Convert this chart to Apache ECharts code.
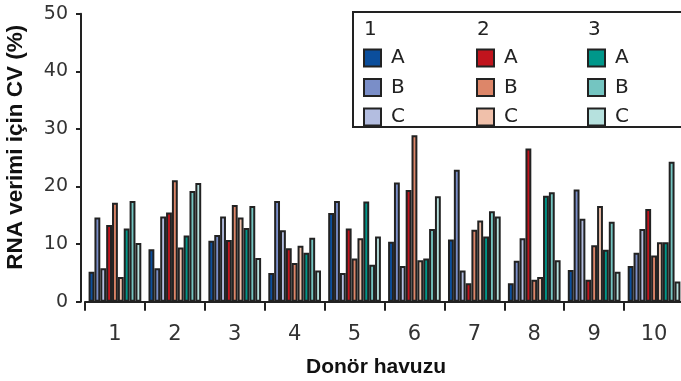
<!DOCTYPE html>
<html>
<head>
<meta charset="utf-8">
<script src="https://cdn.jsdelivr.net/npm/echarts@6/dist/echarts.min.js"></script>
<style>
  html, body { margin: 0; padding: 0; background: #fff; }
  #chart { width: 681px; height: 381px; }
</style>
</head>
<body>
<div id="chart"></div>
<script>
// Donor pools on the x axis
const categories = ['1', '2', '3', '4', '5', '6', '7', '8', '9', '10'];
const yTicks = [0, 10, 20, 30, 40, 50];

// CV of RNA yield (%) per group/replicate, one value per donor pool
const s1A = [5.2, 9.1, 10.6, 5.0, 15.4, 10.4, 10.8, 3.2, 5.5, 6.2];
const s1B = [14.6, 5.8, 11.6, 17.5, 17.5, 20.7, 22.9, 7.1, 19.5, 8.5];
const s1C = [5.8, 14.8, 14.8, 12.4, 5.0, 6.2, 5.4, 11.0, 14.4, 12.6];
const s2A = [13.3, 15.5, 10.7, 9.3, 12.7, 19.4, 3.2, 26.6, 3.8, 16.1];
const s2B = [17.2, 21.1, 16.8, 6.7, 7.5, 28.9, 12.5, 3.8, 9.8, 8.0];
const s2C = [4.3, 9.4, 14.6, 9.7, 11.0, 7.2, 14.1, 4.3, 16.6, 10.3];
const s3A = [12.7, 11.5, 12.8, 8.5, 17.4, 7.5, 11.3, 18.4, 9.0, 10.3];
const s3B = [17.5, 19.2, 16.6, 11.1, 6.4, 12.6, 15.7, 19.0, 13.9, 24.3];
const s3C = [10.2, 20.6, 7.6, 5.4, 11.3, 18.3, 14.8, 7.2, 5.2, 3.5];

const groups = [
  { head: '1', names: ['1-A', '1-B', '1-C'], data: [s1A, s1B, s1C], colors: ['#0b4e9c', '#7a8ec8', '#b3bde0'] },
  { head: '2', names: ['2-A', '2-B', '2-C'], data: [s2A, s2B, s2C], colors: ['#c1141d', '#dd8669', '#f0c0aa'] },
  { head: '3', names: ['3-A', '3-B', '3-C'], data: [s3A, s3B, s3C], colors: ['#00978a', '#74c5c1', '#b6e1de'] }
];

const series = [];
groups.forEach(g => {
  g.names.forEach((n, i) => {
    series.push({
      name: n,
      type: 'bar',
      data: g.data[i],
      barGap: '0%',
      barCategoryGap: '12%',
      itemStyle: { color: g.colors[i], borderColor: '#222', borderWidth: 2 }
    });
  });
});

const font = 'DejaVu Sans';
const legendX = [363, 476, 587];
const legends = groups.map((g, k) => ({
  data: g.names,
  orient: 'vertical',
  left: legendX[k],
  top: 48,
  padding: 0,
  itemWidth: 17,
  itemHeight: 17,
  itemGap: 9.5,
  icon: 'rect',
  selectedMode: false,
  formatter: name => name.split('-')[1],
  itemStyle: { borderColor: '#222', borderWidth: 2 },
  textStyle: { fontFamily: font, fontSize: 20, color: '#222', padding: [0, 0, 0, 5] }
}));

const chart = echarts.init(document.getElementById('chart'));
chart.setOption({
  animation: false,
  grid: { left: 85, right: -3, top: 13.7, bottom: 79.3, containLabel: false, outerBoundsMode: 'none' },
  legend: legends,
  graphic: [
    { type: 'rect', shape: { x: 353, y: 12, width: 340, height: 115 },
      style: { fill: 'none', stroke: '#222', lineWidth: 2 }, z: 10 },
    ...groups.map((g, k) => ({
      type: 'text', left: legendX[k] + 1, top: 20,
      style: { text: g.head, font: '20px "DejaVu Sans"', fill: '#222' }, z: 10
    }))
  ],
  xAxis: {
    type: 'category',
    data: categories,
    name: 'Donör havuzu',
    nameLocation: 'middle',
    nameGap: 55,
    nameTextStyle: { fontFamily: 'Liberation Sans', fontWeight: 'bold', fontSize: 21, color: '#111', padding: [0, 17, 0, 0] },
    axisLine: { lineStyle: { color: '#222', width: 2 } },
    axisTick: { show: true, length: 9, lineStyle: { color: '#222', width: 2 } },
    axisLabel: { fontFamily: font, fontSize: 21, color: '#333', margin: 22 }
  },
  yAxis: {
    type: 'value',
    min: 0, max: 50, interval: 10,
    offset: 4,
    name: 'RNA verimi için CV (%)',
    nameLocation: 'middle',
    nameGap: 54,
    nameTextStyle: { fontFamily: 'Liberation Sans', fontWeight: 'bold', fontSize: 22.5, color: '#111', padding: [0, 0, 0, 21] },
    axisLine: { show: true, lineStyle: { color: '#222', width: 2 } },
    axisTick: { show: true, length: 5, lineStyle: { color: '#222', width: 2 } },
    splitLine: { show: false },
    axisLabel: {
      fontFamily: font, fontSize: 19, color: '#333', margin: 13,
      formatter: v => (yTicks.includes(v) ? String(v) : '')
    }
  },
  series: series
});
</script>
</body>
</html>
